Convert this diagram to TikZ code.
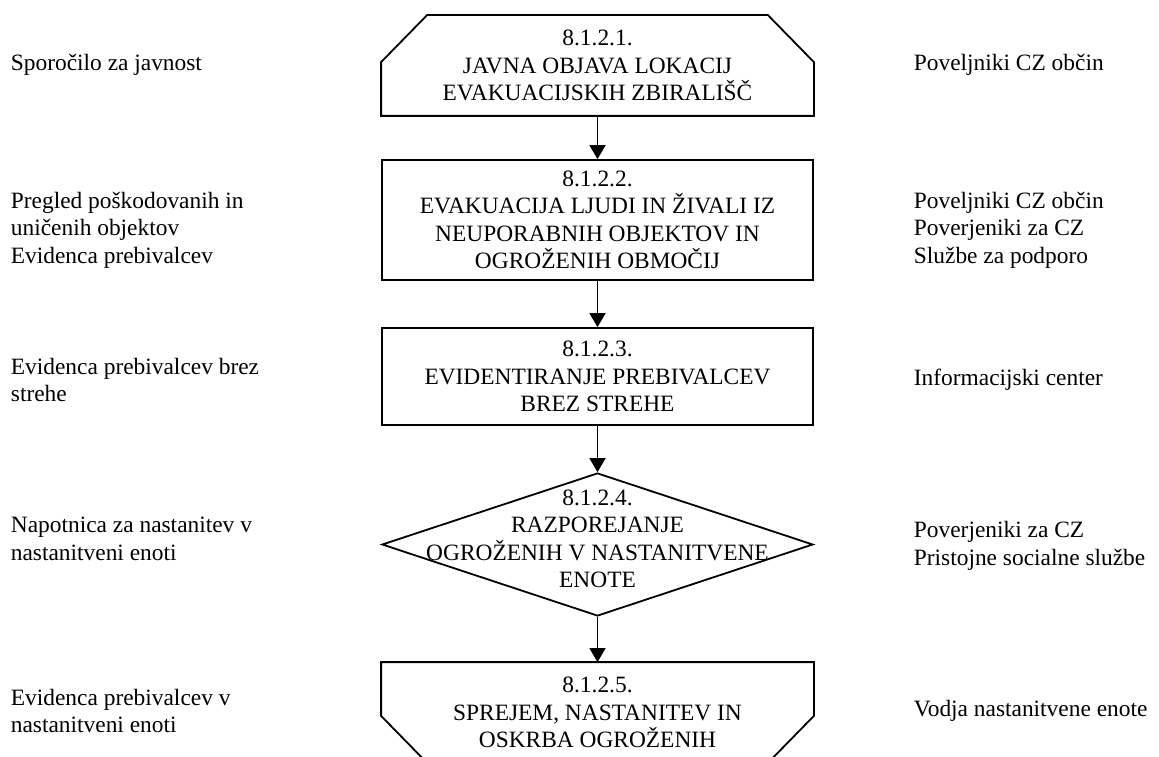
\documentclass[tikz,border=0pt]{standalone}
\usepackage{fontspec}
\setmainfont{Liberation Serif}
\usetikzlibrary{shapes.geometric, arrows.meta, calc}

\begin{document}
\begin{tikzpicture}[x=1pt, y=-1pt, line width=1.8pt,
    every node/.style={font=\fontsize{23.4}{27.5}\selectfont},
    stepbox/.style={rectangle, draw, minimum width=431pt, inner sep=0pt, align=center},
    cutbox/.style={rectangle, minimum width=431pt, minimum height=99pt, inner sep=0pt, align=center},
    sidetext/.style={anchor=west, align=left, inner sep=0pt},
    flow/.style={-{Triangle[width=16pt,length=14pt]}}]
  \clip (0,0) rectangle (1159,757);

  % koraki
  \node[cutbox] (korak1) at (597.5,65.5) {8.1.2.1.\\JAVNA OBJAVA LOKACIJ\\EVAKUACIJSKIH ZBIRALIŠČ};
  \draw ($(korak1.north west)+(46,0)$) -- ($(korak1.north east)+(-46,0)$) -- ($(korak1.north east)+(0,47)$)
    -- (korak1.south east) -- (korak1.south west) -- ($(korak1.north west)+(0,47)$) -- cycle;
  \node[stepbox, minimum height=120pt] (korak2) at (597.5,220) {8.1.2.2.\\EVAKUACIJA LJUDI IN ŽIVALI IZ\\NEUPORABNIH OBJEKTOV IN\\OGROŽENIH OBMOČIJ};
  \node[stepbox, minimum height=97pt] (korak3) at (597.5,376.5) {8.1.2.3.\\EVIDENTIRANJE PREBIVALCEV\\BREZ STREHE};
  \node[diamond, draw, minimum width=431pt, minimum height=143pt, inner sep=0pt] (korak4) at (597.5,544.5) {};
  \node[align=center, inner sep=0pt] (korak4txt) at (597.5,539) {8.1.2.4.\\RAZPOREJANJE\\OGROŽENIH V NASTANITVENE\\ENOTE};
  \node[cutbox] (korak5) at (597.5,712.5) {8.1.2.5.\\SPREJEM, NASTANITEV IN\\OSKRBA OGROŽENIH};
  \draw (korak5.north west) -- (korak5.north east) -- ($(korak5.south east)+(0,-47)$) -- ($(korak5.south east)+(-46,0)$)
    -- ($(korak5.south west)+(46,0)$) -- ($(korak5.south west)+(0,-47)$) -- cycle;

  \draw[flow] (korak1.south) -- (korak2.north);
  \draw[flow] (korak2.south) -- (korak3.north);
  \draw[flow] (korak3.south) -- (korak4.north);
  \draw[flow] (korak4.south) -- (korak5.north);

  % dokumenti (levo)
  \node[sidetext] (dok1) at (10,65) {Sporočilo za javnost};
  \node[sidetext] (dok2) at (10,230) {Pregled poškodovanih in\\uničenih objektov\\Evidenca prebivalcev};
  \node[sidetext] (dok3) at (10,380) {Evidenca prebivalcev brez\\strehe};
  \node[sidetext] (dok4) at (10,539) {Napotnica za nastanitev v\\nastanitveni enoti};
  \node[sidetext] (dok5) at (10,711) {Evidenca prebivalcev v\\nastanitveni enoti};

  % izvajalci (desno)
  \node[sidetext] (izv1) at (913,65) {Poveljniki CZ občin};
  \node[sidetext] (izv2) at (913,230) {Poveljniki CZ občin\\Poverjeniki za CZ\\Službe za podporo};
  \node[sidetext] (izv3) at (913,380) {Informacijski center};
  \node[sidetext] (izv4) at (913,546) {Poverjeniki za CZ\\Pristojne socialne službe};
  \node[sidetext] (izv5) at (913,711) {Vodja nastanitvene enote};
\end{tikzpicture}
\end{document}
